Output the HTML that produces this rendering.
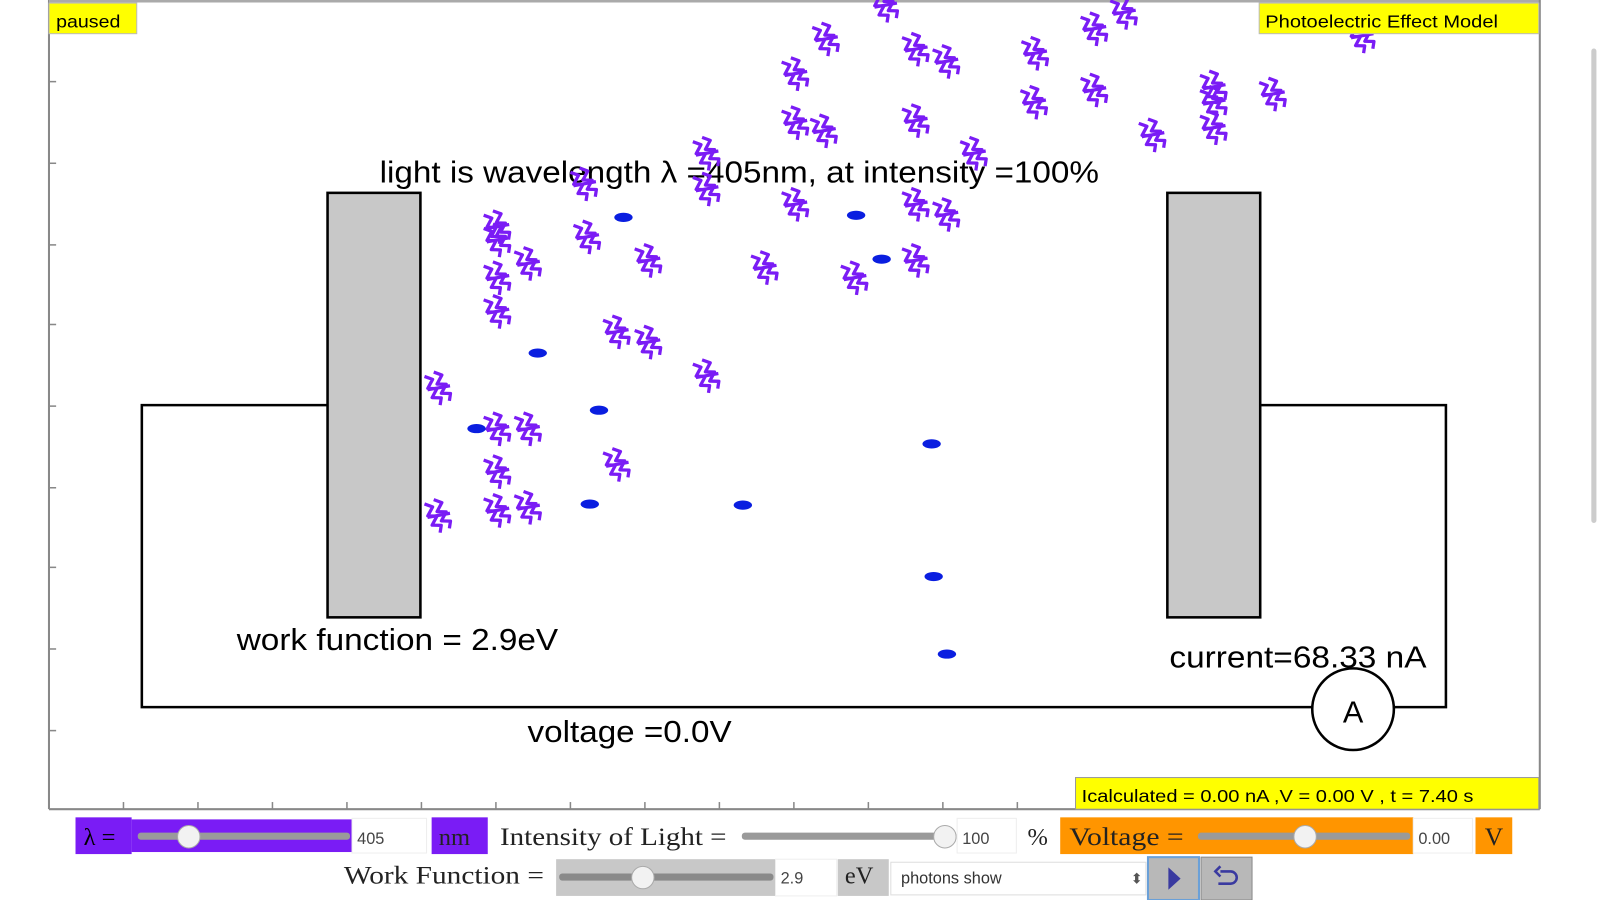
<!DOCTYPE html>
<html><head><meta charset="utf-8"><style>
body{margin:0;background:#fff;width:1600px;height:900px;overflow:hidden;font-family:"Liberation Sans",sans-serif}
svg{display:block}
</style></head><body>
<svg width="1600" height="900" viewBox="0 0 1568 882" preserveAspectRatio="none" xmlns="http://www.w3.org/2000/svg" font-family="Liberation Sans, sans-serif">
<defs>
<g id="p" fill="none" stroke="#7a1cf5" stroke-width="3.2" stroke-linejoin="round">
<path d="M-8,-16 L-2,-10 L-10,-4 L-2,0 L-10,6 L-2,10 L-6,16" transform="rotate(-25)"/>
<path d="M2,-16 L8,-10 L0,-4 L8,0 L0,6 L8,10 L4,16" transform="rotate(-25)"/>
<path d="M-11,2 L11,-2" />
</g>
</defs>
<rect x="0" y="0" width="1568" height="882" fill="#fff"/>
<line x1="48" y1="0" x2="48" y2="793" stroke="#888" stroke-width="2"/>
<line x1="48" y1="1" x2="1509" y2="1" stroke="#aaa" stroke-width="3"/>
<line x1="1509" y1="0" x2="1509" y2="793" stroke="#888" stroke-width="2"/>
<line x1="48" y1="793" x2="1509" y2="793" stroke="#888" stroke-width="2"/>
<line x1="1562" y1="50" x2="1562" y2="510" stroke="#ccc" stroke-width="5" stroke-linecap="round"/>
<g stroke="#888" stroke-width="1.5">
<line x1="48" y1="80" x2="55" y2="80"/><line x1="48" y1="160" x2="55" y2="160"/><line x1="48" y1="240" x2="55" y2="240"/><line x1="48" y1="318" x2="55" y2="318"/><line x1="48" y1="398" x2="55" y2="398"/><line x1="48" y1="478" x2="55" y2="478"/><line x1="48" y1="556" x2="55" y2="556"/><line x1="48" y1="636" x2="55" y2="636"/><line x1="48" y1="716" x2="55" y2="716"/>
<line x1="121" y1="786" x2="121" y2="793"/><line x1="194" y1="786" x2="194" y2="793"/><line x1="267" y1="786" x2="267" y2="793"/><line x1="340" y1="786" x2="340" y2="793"/><line x1="413" y1="786" x2="413" y2="793"/><line x1="486" y1="786" x2="486" y2="793"/><line x1="559" y1="786" x2="559" y2="793"/><line x1="632" y1="786" x2="632" y2="793"/><line x1="705" y1="786" x2="705" y2="793"/><line x1="778" y1="786" x2="778" y2="793"/><line x1="851" y1="786" x2="851" y2="793"/><line x1="924" y1="786" x2="924" y2="793"/><line x1="997" y1="786" x2="997" y2="793"/>
</g>
<polyline points="321,397 139,397 139,693 1286,693" fill="none" stroke="#000" stroke-width="2.5"/>
<polyline points="1236,397 1417,397 1417,693 1366,693" fill="none" stroke="#000" stroke-width="2.5"/>
<circle cx="1326" cy="695" r="40" fill="#fff" stroke="#000" stroke-width="2.5"/>
<text x="1326" y="708" font-size="30" text-anchor="middle">A</text>
<rect x="321" y="189" width="91" height="416" fill="#c8c8c8" stroke="#000" stroke-width="2.5"/>
<rect x="1144" y="189" width="91" height="416" fill="#c8c8c8" stroke="#000" stroke-width="2.5"/>
<text x="232" y="637" font-size="30" textLength="315" lengthAdjust="spacingAndGlyphs">work function = 2.9eV</text>
<text x="1146" y="654" font-size="30" textLength="252" lengthAdjust="spacingAndGlyphs">current=68.33 nA</text>
<text x="517" y="727" font-size="30" textLength="200" lengthAdjust="spacingAndGlyphs">voltage =0.0V</text>
<text x="372" y="179" font-size="30" textLength="705" lengthAdjust="spacingAndGlyphs">light is wavelength λ =405nm, at intensity =100%</text>
<g>
<use href="#p" x="868" y="5"/><use href="#p" x="810" y="38"/><use href="#p" x="898" y="48"/><use href="#p" x="928" y="60"/><use href="#p" x="1015" y="52"/><use href="#p" x="1073" y="28"/><use href="#p" x="1102" y="12"/><use href="#p" x="780" y="72"/><use href="#p" x="1014" y="100"/><use href="#p" x="1073" y="88"/><use href="#p" x="1190" y="85"/><use href="#p" x="1190" y="100"/><use href="#p" x="1248" y="92"/><use href="#p" x="1335" y="35"/><use href="#p" x="780" y="120"/><use href="#p" x="808" y="128"/><use href="#p" x="898" y="118"/><use href="#p" x="1130" y="132"/><use href="#p" x="1190" y="125"/><use href="#p" x="693" y="150"/><use href="#p" x="955" y="150"/><use href="#p" x="573" y="180"/><use href="#p" x="693" y="185"/><use href="#p" x="780" y="200"/><use href="#p" x="898" y="200"/><use href="#p" x="928" y="210"/><use href="#p" x="488" y="222"/><use href="#p" x="488" y="235"/><use href="#p" x="576" y="232"/><use href="#p" x="636" y="255"/><use href="#p" x="518" y="258"/><use href="#p" x="750" y="262"/><use href="#p" x="838" y="272"/><use href="#p" x="898" y="255"/><use href="#p" x="488" y="272"/><use href="#p" x="488" y="305"/><use href="#p" x="605" y="325"/><use href="#p" x="636" y="335"/><use href="#p" x="693" y="368"/><use href="#p" x="430" y="380"/><use href="#p" x="488" y="420"/><use href="#p" x="518" y="420"/><use href="#p" x="488" y="462"/><use href="#p" x="605" y="455"/><use href="#p" x="430" y="505"/><use href="#p" x="488" y="500"/><use href="#p" x="518" y="497"/>
</g>
<g fill="#0a1ee0">
<ellipse cx="611" cy="213" rx="9" ry="4.5"/><ellipse cx="839" cy="211" rx="9" ry="4.5"/><ellipse cx="864" cy="254" rx="9" ry="4.5"/><ellipse cx="527" cy="346" rx="9" ry="4.5"/><ellipse cx="587" cy="402" rx="9" ry="4.5"/><ellipse cx="467" cy="420" rx="9" ry="4.5"/><ellipse cx="913" cy="435" rx="9" ry="4.5"/><ellipse cx="578" cy="494" rx="9" ry="4.5"/><ellipse cx="728" cy="495" rx="9" ry="4.5"/><ellipse cx="915" cy="565" rx="9" ry="4.5"/><ellipse cx="928" cy="641" rx="9" ry="4.5"/>
</g>
<rect x="48" y="3" width="86" height="30" fill="#ffff00" stroke="#bbb"/>
<text x="55" y="27" font-size="17" textLength="63" lengthAdjust="spacingAndGlyphs">paused</text>
<rect x="1234" y="3" width="274" height="30" fill="#ffff00" stroke="#bbb"/>
<text x="1240" y="27" font-size="17" textLength="228" lengthAdjust="spacingAndGlyphs">Photoelectric Effect Model</text>
<rect x="1054" y="762" width="454" height="31" fill="#ffff00" stroke="#999"/>
<text x="1060" y="786" font-size="17" textLength="384" lengthAdjust="spacingAndGlyphs">Icalculated = 0.00 nA ,V = 0.00 V , t = 7.40 s</text>
<rect x="74" y="801" width="55" height="36" fill="#7a1cf5"/>
<text x="82" y="828" font-size="24" font-family="Liberation Serif, serif">λ =</text>
<rect x="129" y="803" width="216" height="32" fill="#7a1cf5"/>
<rect x="135" y="816" width="208" height="7" rx="3" fill="#9a9a9a"/>
<circle cx="185" cy="820" r="11" fill="#f2f2f2" stroke="#aaa"/>
<rect x="345" y="802" width="73" height="34" fill="#fff" stroke="#eee"/>
<text x="350" y="827" font-size="16" fill="#444">405</text>
<rect x="423" y="801" width="55" height="36" fill="#7a1cf5"/>
<text x="430" y="828" font-size="24" font-family="Liberation Serif, serif" fill="#222">nm</text>
<text x="490" y="828" font-size="25" font-family="Liberation Serif, serif" fill="#222" textLength="222" lengthAdjust="spacingAndGlyphs">Intensity of Light =</text>
<rect x="727" y="816" width="200" height="7" rx="3" fill="#9a9a9a"/>
<circle cx="926" cy="820" r="11" fill="#f2f2f2" stroke="#aaa"/>
<rect x="938" y="802" width="58" height="34" fill="#fff" stroke="#eee"/>
<text x="943" y="827" font-size="16" fill="#444">100</text>
<text x="1007" y="828" font-size="24" font-family="Liberation Serif, serif" fill="#222">%</text>
<rect x="1039" y="801" width="346" height="36" fill="#ff9500"/>
<text x="1048" y="828" font-size="25" font-family="Liberation Serif, serif" fill="#222" textLength="112" lengthAdjust="spacingAndGlyphs">Voltage =</text>
<rect x="1174" y="816" width="208" height="7" rx="3" fill="#9a9a9a"/>
<circle cx="1279" cy="820" r="11" fill="#f2f2f2" stroke="#aaa"/>
<rect x="1385" y="802" width="58" height="34" fill="#fff" stroke="#eee"/>
<text x="1390" y="827" font-size="16" fill="#444">0.00</text>
<rect x="1446" y="801" width="36" height="36" fill="#ff9500"/>
<text x="1455" y="828" font-size="25" font-family="Liberation Serif, serif" fill="#222">V</text>
<text x="337" y="866" font-size="25" font-family="Liberation Serif, serif" fill="#222" textLength="196" lengthAdjust="spacingAndGlyphs">Work Function =</text>
<rect x="545" y="842" width="215" height="36" fill="#c8c8c8"/>
<rect x="548" y="856" width="210" height="7" rx="3" fill="#8a8a8a"/>
<circle cx="630" cy="860" r="11" fill="#f2f2f2" stroke="#aaa"/>
<rect x="760" y="842" width="60" height="36" fill="#fff" stroke="#eee"/>
<text x="765" y="866" font-size="16" fill="#444">2.9</text>
<rect x="821" y="842" width="50" height="36" fill="#c8c8c8"/>
<text x="828" y="866" font-size="24" font-family="Liberation Serif, serif" fill="#222">eV</text>
<rect x="873" y="845" width="250" height="32" fill="#fff" stroke="#ddd"/>
<text x="883" y="866" font-size="16" fill="#333">photons show</text>
<text x="1108" y="866" font-size="14" fill="#555">⬍</text>
<rect x="1125" y="840" width="50" height="42" fill="#b8b8b8" stroke="#6aa0d8" stroke-width="2"/>
<polygon points="1145,850 1157,861 1145,872" fill="#3a3aa0"/>
<rect x="1177" y="840" width="50" height="42" fill="#b8b8b8" stroke="#888"/>
<path d="M1196,854 h10 a6,6 0 0 1 0,12 h-12 M1196,849 l-5,5 5,5" fill="none" stroke="#3a3aa0" stroke-width="2.5"/>
</svg>
</body></html>
